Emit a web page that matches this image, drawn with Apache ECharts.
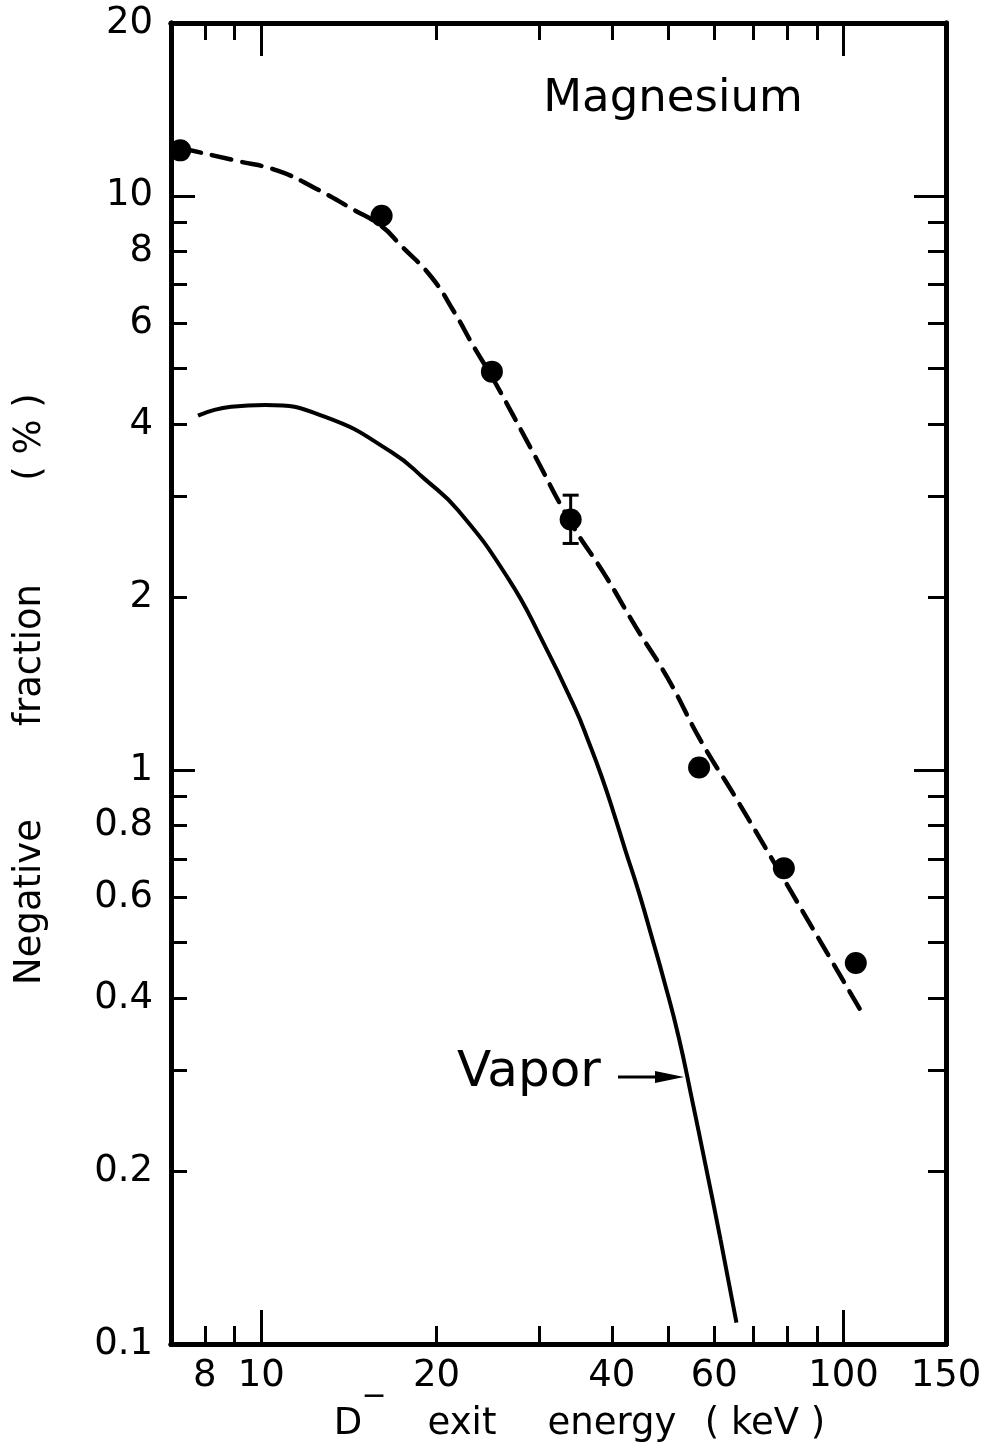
<!DOCTYPE html>
<html>
<head>
<meta charset="utf-8">
<title>Magnesium negative fraction</title>
<script src="https://cdn.jsdelivr.net/npm/echarts@6/dist/echarts.min.js"></script>
<style>
  html, body { margin: 0; padding: 0; background: #fff; }
  #chart { width: 994px; height: 1451px; }
</style>
</head>
<body>
<div id="chart"></div>
<script>
// axis ranges (log-log)
const xMin = 7, xMax = 150;
const yMin = 0.1, yMax = 20;

// tick labels and tick positions
const xLabels = [8, 10, 20, 40, 60, 100, 150];
const xMinorTicks = [8, 9, 20, 30, 40, 50, 60, 70, 80, 90];
const xMajorTicks = [10, 100];
const yLabels = [0.1, 0.2, 0.4, 0.6, 0.8, 1, 2, 4, 6, 8, 10, 20];
const yMinorTicks = [0.2, 0.3, 0.4, 0.5, 0.6, 0.7, 0.8, 0.9, 2, 3, 4, 5, 6, 7, 8, 9];
const yMajorTicks = [1, 10];

// measured points: D- exit energy (keV), negative fraction (%)
const pointEnergy = [7.26, 16.1, 24.9, 34.0, 56.5, 79.0, 105];
const pointFraction = [12.0, 9.23, 4.94, 2.73, 1.01, 0.674, 0.461];

// error bar on one point
const errEnergy = [34.0];
const errLow = [2.48];
const errHigh = [3.01];

// dashed fit curve
const fitEnergy = [7.3, 9.1, 10.7, 12.4, 14.3, 16.1, 17.4, 19.6, 21.4, 23.3, 24.9, 29.1, 34.0, 39.0, 43.9, 50.0, 57.0, 65.2, 79.5, 108.7];
const fitFraction = [12.1, 11.5, 11.05, 10.3, 9.5, 8.85, 8.18, 7.22, 6.3, 5.41, 4.84, 3.62, 2.70, 2.18, 1.78, 1.44, 1.12, 0.897, 0.638, 0.371];

// solid "Vapor" curve
const vaporEnergy = [7.79, 8.88, 10.16, 12.88, 16.73, 19.1, 21.8, 26.6, 30.3, 34.6, 36.5, 38.4, 40.3, 42.2, 44.5, 46.8, 49.3, 52.1, 54.8, 57.9, 61.5, 65.5];
const vaporFraction = [4.14, 4.29, 4.32, 4.12, 3.58, 3.21, 2.83, 2.15, 1.69, 1.28, 1.12, 0.976, 0.842, 0.725, 0.613, 0.514, 0.426, 0.343, 0.270, 0.206, 0.152, 0.109];

const FONT = '"DejaVu Sans", "Liberation Sans", sans-serif';

function zip(a, b) {
    return a.map((v, i) => [v, b[i]]);
}

function fmt(v) {
    return String(parseFloat(Number(v).toPrecision(6)));
}

function makeXAxis(pos, ticks, len, labels) {
    return {
        type: 'log', position: pos, min: xMin, max: xMax,
        axisLine: { show: true, lineStyle: { color: '#000', width: 5 } },
        axisTick: { show: true, inside: true, length: len, customValues: ticks, lineStyle: { color: '#000', width: 3 } },
        axisLabel: labels ? {
            show: true, customValues: labels, margin: 14, color: '#000',
            fontFamily: FONT, fontSize: 37, formatter: fmt
        } : { show: false },
        splitLine: { show: false }
    };
}

function makeYAxis(pos, ticks, len, labels) {
    return {
        type: 'log', position: pos, min: yMin, max: yMax,
        axisLine: { show: true, lineStyle: { color: '#000', width: 5 } },
        axisTick: { show: true, inside: true, length: len, customValues: ticks, lineStyle: { color: '#000', width: 3 } },
        axisLabel: labels ? {
            show: true, customValues: labels, margin: 18, color: '#000',
            fontFamily: FONT, fontSize: 37, formatter: fmt
        } : { show: false },
        splitLine: { show: false }
    };
}

let chart = echarts.init(document.getElementById('chart'), null, { renderer: 'canvas' });

let textStyle = function (txt, size, align) {
    return {
        text: txt, font: size + 'px ' + FONT, fill: '#000',
        align: align, verticalAlign: 'middle', textAlign: align, textVerticalAlign: 'middle'
    };
};

let option = {
    backgroundColor: '#fff',
    animation: false,
    grid: { left: 171, right: 48, top: 23, bottom: 107, outerBoundsMode: 'none', containLabel: false },
    xAxis: [
        makeXAxis('bottom', xMinorTicks, 18, xLabels),
        makeXAxis('bottom', xMajorTicks, 34, null),
        makeXAxis('top', xMinorTicks, 17, null),
        makeXAxis('top', xMajorTicks, 33, null)
    ],
    yAxis: [
        makeYAxis('left', yMinorTicks, 16, yLabels),
        makeYAxis('left', yMajorTicks, 24, null),
        makeYAxis('right', yMinorTicks, 18, null),
        makeYAxis('right', yMajorTicks, 32, null)
    ],
    series: [
        {
            name: 'fit', type: 'line', smooth: 0.5, symbol: 'none',
            data: zip(fitEnergy, fitFraction),
            lineStyle: { color: '#000', width: 4.5, type: [20, 11], cap: 'round' },
            z: 2
        },
        {
            name: 'Vapor', type: 'line', smooth: 0.5, symbol: 'none',
            data: zip(vaporEnergy, vaporFraction),
            lineStyle: { color: '#000', width: 4 },
            z: 2
        },
        {
            name: 'error', type: 'custom',
            data: errEnergy.map((x, i) => [x, errLow[i], errHigh[i]]),
            renderItem: function (params, api) {
                const lo = api.coord([api.value(0), api.value(1)]);
                const hi = api.coord([api.value(0), api.value(2)]);
                const w = 8;
                const style = { stroke: '#000', lineWidth: 3 };
                return {
                    type: 'group',
                    children: [
                        { type: 'line', shape: { x1: lo[0], y1: lo[1], x2: hi[0], y2: hi[1] }, style: style },
                        { type: 'line', shape: { x1: lo[0] - w, y1: lo[1], x2: lo[0] + w, y2: lo[1] }, style: style },
                        { type: 'line', shape: { x1: hi[0] - w, y1: hi[1], x2: hi[0] + w, y2: hi[1] }, style: style }
                    ]
                };
            },
            z: 3
        },
        {
            name: 'measured', type: 'scatter', symbol: 'circle', symbolSize: 22,
            data: zip(pointEnergy, pointFraction),
            itemStyle: { color: '#000', opacity: 1 },
            z: 4
        }
    ],
    graphic: [
        { type: 'text', x: 673, y: 99, style: textStyle('Magnesium', 45, 'center') },
        { type: 'text', x: 457, y: 1073, style: textStyle('Vapor', 50, 'left') },
        { type: 'line', shape: { x1: 618, y1: 1077, x2: 668, y2: 1077 }, style: { stroke: '#000', lineWidth: 3 } },
        { type: 'polygon', shape: { points: [[655, 1071], [684, 1077], [655, 1083]] }, style: { fill: '#000' } },
        // y axis title, rotated word by word
        { type: 'text', x: 30, y: 902, rotation: Math.PI / 2, style: textStyle('Negative', 37, 'center') },
        { type: 'text', x: 30, y: 655, rotation: Math.PI / 2, style: textStyle('fraction', 37, 'center') },
        { type: 'text', x: 30, y: 437, rotation: Math.PI / 2, style: textStyle('( % )', 37, 'center') },
        // x axis title
        { type: 'text', x: 348, y: 1424, style: textStyle('D', 37, 'center') },
        { type: 'text', x: 374, y: 1397, style: textStyle('\u2212', 30, 'center') },
        { type: 'text', x: 462, y: 1424, style: textStyle('exit', 37, 'center') },
        { type: 'text', x: 612, y: 1424, style: textStyle('energy', 37, 'center') },
        { type: 'text', x: 765, y: 1424, style: textStyle('( keV )', 37, 'center') }
    ]
};

chart.setOption(option);
</script>
</body>
</html>
